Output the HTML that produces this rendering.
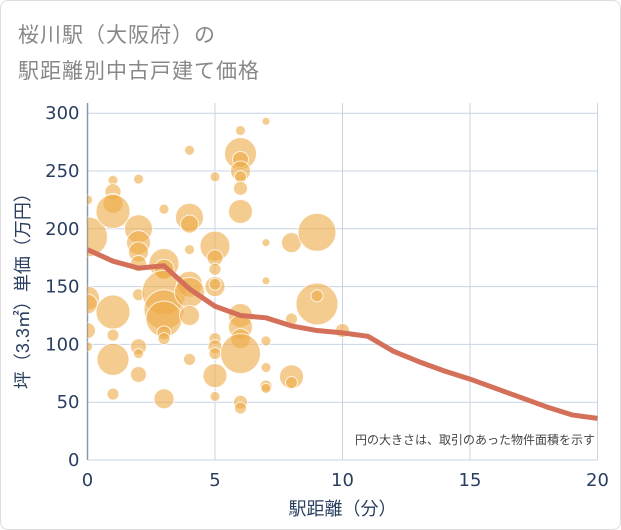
<!DOCTYPE html>
<html><head><meta charset="utf-8"><style>
body{margin:0;background:#fff;font-family:"Liberation Sans","Noto Sans CJK JP",sans-serif;}
#wrap{position:relative;width:619px;height:528px;border:1px solid #ddd;border-radius:8px;overflow:hidden;}
.title{position:absolute;left:17px;font-size:21px;color:#888;letter-spacing:1px;}
</style></head><body>
<div id="wrap">
<div class="title" style="top:18px">桜川駅（大阪府）の</div>
<div class="title" style="top:54px">駅距離別中古戸建て価格</div>
<svg id="chart" width="621" height="530" style="position:absolute;left:0;top:0"></svg>
</div>
<script>
const xTicks=[0,5,10,15,20];
const yTicks=[0,50,100,150,200,250,300];
const bubbleX=[0,0,0,0,0,0,1,1,1,1,1,1,1,1,2,2,2,2,2,2,2,2,2,3,3,3,3,3,3,3,3,3,4,4,4,4,4,4,4,4,5,5,5,5,5,5,5,5,5,5,5,6,6,6,6,6,6,6,6,6,6,6,6,6,7,7,7,7,7,7,7,8,8,8,8,9,9,9,10];
const bubbleY=[225,193,140,135,112,98,242,232,222,215,128,108,87,57,243,200,188,180,170,143,98,92,74,217,170,165,145,130,122,110,105,53,268,210,204,182,152,145,125,87,245,185,175,165,150,152,105,98,92,73,55,285,265,260,250,245,235,215,125,115,105,92,50,45,293,188,155,103,80,64,62,188,122,72,67,197,135,142,112];
const bubbleR=[5,20,12,10,8,5,5,8,10,17,17,6,16,6,5,14,12,10,8,6,8,5,8,5,15,10,22,20,18,7,6,10,5,14,9,5,13,15,10,6,5,15,8,6,10,6,6,7,6,12,5,5,16,8,10,6,7,12,12,12,10,20,7,6,4,4,4,5,5,6,5,10,6,12,6,19,21,6,7];
const lineX=[0,1,2,3,4,5,6,7,8,9,10,11,12,13,14,15,16,17,18,19,20];
const lineY=[182,172,166,168,148,133,125,123,116,112,110,107,94,85,77,70,62,54,46,39,36];
const X0=86.5,XS=25.5,Y0=459,YS=1.156,XMAX=597,YTOP=102;
const sx=v=>X0+v*XS, sy=v=>Y0-v*YS;
const svg=document.getElementById('chart');const NS='http://www.w3.org/2000/svg';
const TF='"DejaVu Sans",sans-serif';
function mk(t,a,p){const e=document.createElementNS(NS,t);for(const k in a)e.setAttribute(k,a[k]);(p||svg).appendChild(e);return e;}
const clip=mk('clipPath',{id:'pc'});mk('rect',{x:X0,y:YTOP,width:XMAX-X0,height:Y0-YTOP},clip);
xTicks.forEach(t=>{const l=mk('line',{x1:sx(t),x2:sx(t),y1:YTOP,y2:Y0,stroke:'#c8d4e3','stroke-width':1});


const tx=mk('text',{x:sx(t),y:Y0+26,'text-anchor':'middle','font-size':18,fill:'#2a3f5f','font-family':TF});tx.textContent=t;

});
yTicks.forEach(t=>{const l=mk('line',{x1:X0,x2:XMAX,y1:sy(t),y2:sy(t),stroke:'#c8d4e3','stroke-width':1});


const tx=mk('text',{x:X0-8,y:sy(t)+6,'text-anchor':'end','font-size':18,fill:'#2a3f5f','font-family':TF});tx.textContent=t;

});
const ax=mk('line',{x1:X0,x2:X0,y1:YTOP,y2:Y0,stroke:'#8a97a8','stroke-width':1.5});


const g=mk('g',{'clip-path':'url(#pc)'});
bubbleX.forEach((x,i)=>{const c=mk('circle',{cx:sx(x),cy:sy(bubbleY[i]),r:bubbleR[i],fill:'rgba(238,170,70,0.6)',stroke:'rgba(255,255,255,0.8)','stroke-width':1},g);

});
const pl=mk('polyline',{points:lineX.map((x,i)=>sx(x)+','+sy(lineY[i])).join(' '),fill:'none',stroke:'#d4705a','stroke-width':5,'stroke-linejoin':'round'},g);


const note=mk('text',{x:594,y:443,'text-anchor':'end','font-size':12,fill:'#444'});note.textContent='円の大きさは、取引のあった物件面積を示す';


const xt=mk('text',{x:sx(10),y:514,'text-anchor':'middle','font-size':18,fill:'#2a3f5f'});xt.textContent='駅距離（分）';


const yt=mk('text',{x:0,y:0,'text-anchor':'middle','font-size':18,fill:'#2a3f5f',transform:'translate(28,'+sy(150)+') rotate(-90)'});yt.textContent='坪（3.3㎡）単価（万円）';


</script>
</body></html>
